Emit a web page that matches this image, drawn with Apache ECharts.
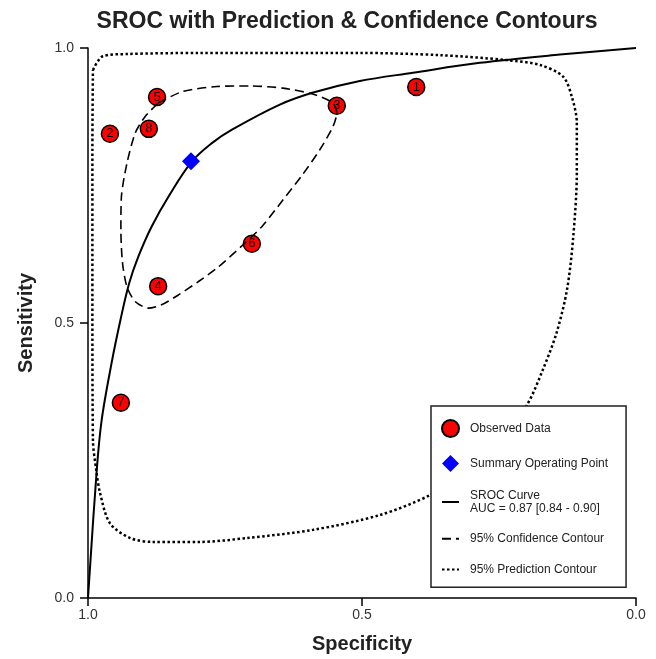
<!DOCTYPE html>
<html>
<head>
<meta charset="utf-8">
<script src="https://cdn.jsdelivr.net/npm/echarts@6/dist/echarts.min.js"></script>
<style>
	html, body { margin: 0; padding: 0; background: #fff; }
	#chart { width: 656px; height: 659px; }
</style>
</head>
<body>
<div id="chart"></div>
<script>
/* Study points: [specificity, sensitivity] */
const studyLabels = ["1", "2", "3", "4", "5", "6", "7", "8"];
const studySpec = [0.401, 0.960, 0.546, 0.872, 0.874, 0.701, 0.940, 0.889];
const studySens = [0.929, 0.844, 0.895, 0.567, 0.911, 0.644, 0.355, 0.853];

const summaryPoint = [0.812, 0.794];

/* SROC curve */
const srocSpec = [1.000, 0.984, 0.975, 0.957, 0.940, 0.925, 0.908, 0.884, 0.853, 0.811, 0.774, 0.738, 0.650, 0.589, 0.504, 0.407, 0.285, 0.139, 0.000];
const srocSens = [0.000, 0.233, 0.324, 0.427, 0.509, 0.572, 0.621, 0.675, 0.730, 0.793, 0.827, 0.851, 0.897, 0.919, 0.940, 0.955, 0.973, 0.988, 1.000];

/* 95% confidence contour */
const confSpec = [0.872, 0.827, 0.765, 0.704, 0.644, 0.589, 0.553, 0.546, 0.553, 0.577, 0.609, 0.644, 0.682, 0.714, 0.762, 0.799, 0.835, 0.866, 0.890, 0.914, 0.929, 0.937, 0.940, 0.939, 0.929, 0.914, 0.896, 0.872];
const confSens = [0.900, 0.921, 0.930, 0.931, 0.927, 0.916, 0.900, 0.882, 0.857, 0.815, 0.769, 0.724, 0.676, 0.645, 0.602, 0.575, 0.551, 0.533, 0.527, 0.539, 0.566, 0.609, 0.669, 0.730, 0.790, 0.845, 0.875, 0.900];

/* 95% prediction contour */
const predSpec = [0.991, 0.973, 0.929, 0.796, 0.504, 0.358, 0.236, 0.175, 0.133, 0.117, 0.108, 0.108, 0.115, 0.126, 0.145, 0.170, 0.199, 0.248, 0.303, 0.376, 0.467, 0.589, 0.710, 0.796, 0.881, 0.923, 0.960, 0.978, 0.985, 0.991, 0.992, 0.992, 0.991];
const predSens = [0.960, 0.985, 0.989, 0.991, 0.991, 0.987, 0.978, 0.969, 0.948, 0.911, 0.864, 0.773, 0.651, 0.560, 0.482, 0.415, 0.351, 0.287, 0.233, 0.187, 0.151, 0.124, 0.109, 0.102, 0.102, 0.109, 0.136, 0.191, 0.233, 0.287, 0.542, 0.815, 0.960];

function pairs(xs, ys) {
	return xs.map((x, i) => [x, ys[i]]);
}

const FONT = "Liberation Sans, Arial, sans-serif";

const axisLineStyle = {
	color: "#000",
	width: 1.5,
};

/* legend: hide the marker that line series put in their icon */
const lineLegendItem = (name) => ({
	name: name,
	itemStyle: { color: "rgba(0,0,0,0)", borderWidth: 0 },
});

const chart = echarts.init(document.getElementById("chart"));

chart.setOption({
	animation: false,
	backgroundColor: "#fff",
	textStyle: { fontFamily: FONT },
	title: {
		text: "SROC with Prediction & Confidence Contours",
		left: 342,
		top: 5,
		textAlign: "center",
		textStyle: {
			fontFamily: FONT,
			fontSize: 23,
			fontWeight: "bold",
			color: "#222",
		},
	},
	grid: {
		left: 88,
		right: 20,
		top: 48,
		bottom: 61,
		containLabel: false,
	},
	xAxis: {
		type: "value",
		inverse: true,
		min: 0,
		max: 1,
		interval: 0.5,
		name: "Specificity",
		nameLocation: "middle",
		nameGap: 36,
		nameTextStyle: {
			fontFamily: FONT,
			fontSize: 20,
			fontWeight: "bold",
			color: "#222",
		},
		axisLine: { onZero: false, lineStyle: axisLineStyle },
		axisTick: { show: true, inside: false, length: 8, lineStyle: axisLineStyle },
		axisLabel: {
			margin: 10,
			fontSize: 14,
			color: "#333",
			formatter: (v) => v.toFixed(1),
		},
		splitLine: { show: false },
	},
	yAxis: {
		type: "value",
		position: "left",
		min: 0,
		max: 1,
		interval: 0.5,
		name: "Sensitivity",
		nameLocation: "middle",
		nameGap: 52,
		nameTextStyle: {
			fontFamily: FONT,
			fontSize: 20,
			fontWeight: "bold",
			color: "#222",
		},
		axisLine: { onZero: false, lineStyle: axisLineStyle },
		axisTick: { show: true, inside: false, length: 8, lineStyle: axisLineStyle },
		axisLabel: {
			margin: 14,
			fontSize: 14,
			color: "#333",
			formatter: (v) => v.toFixed(1),
		},
		splitLine: { show: false },
	},
	legend: {
		orient: "vertical",
		left: 431,
		top: 406,
		padding: [13, 18, 11, 10],
		itemGap: 17,
		itemWidth: 17,
		itemHeight: 17,
		backgroundColor: "#fff",
		borderColor: "#222",
		borderWidth: 1.5,
		borderRadius: 0,
		z: 10,
		textStyle: {
			fontFamily: FONT,
			fontSize: 12,
			lineHeight: 13,
			color: "#222",
			padding: [0, 0, 0, 6],
		},
		data: [
			{ name: "Observed Data", icon: "circle" },
			{ name: "Summary Operating Point", icon: "diamond" },
			lineLegendItem("SROC Curve\nAUC = 0.87 [0.84 - 0.90]"),
			lineLegendItem("95% Confidence Contour"),
			lineLegendItem("95% Prediction Contour"),
		],
	},
	series: [
		{
			name: "Observed Data",
			type: "scatter",
			symbol: "circle",
			symbolSize: 17,
			z: 2,
			itemStyle: {
				color: "#ff0000",
				borderColor: "#000",
				borderWidth: 1.5,
				opacity: 1,
			},
			label: {
				show: true,
				position: "inside",
				fontFamily: FONT,
				fontSize: 13,
				color: "#000",
				formatter: (p) => studyLabels[p.dataIndex],
			},
			data: pairs(studySpec, studySens),
		},
		{
			name: "SROC Curve\nAUC = 0.87 [0.84 - 0.90]",
			type: "line",
			symbol: "none",
			smooth: 0.35,
			z: 3,
			lineStyle: { color: "#000", width: 2, type: "solid" },
			itemStyle: { color: "#000" },
			data: pairs(srocSpec, srocSens),
		},
		{
			name: "95% Confidence Contour",
			type: "line",
			symbol: "none",
			smooth: 0.25,
			z: 3,
			lineStyle: { color: "#000", width: 1.6, type: [9, 5] },
			itemStyle: { color: "#000" },
			data: pairs(confSpec, confSens),
		},
		{
			name: "95% Prediction Contour",
			type: "line",
			symbol: "none",
			smooth: 0.3,
			z: 3,
			lineStyle: { color: "#000", width: 2.5, type: [2.5, 2.5] },
			itemStyle: { color: "#000" },
			data: pairs(predSpec, predSens),
		},
		{
			name: "Summary Operating Point",
			type: "scatter",
			symbol: "diamond",
			symbolSize: 18,
			z: 4,
			itemStyle: { color: "#0000ff", opacity: 1 },
			data: [summaryPoint],
		},
	],
});

window.addEventListener("resize", function () {
	chart.resize();
});
</script>
</body>
</html>
